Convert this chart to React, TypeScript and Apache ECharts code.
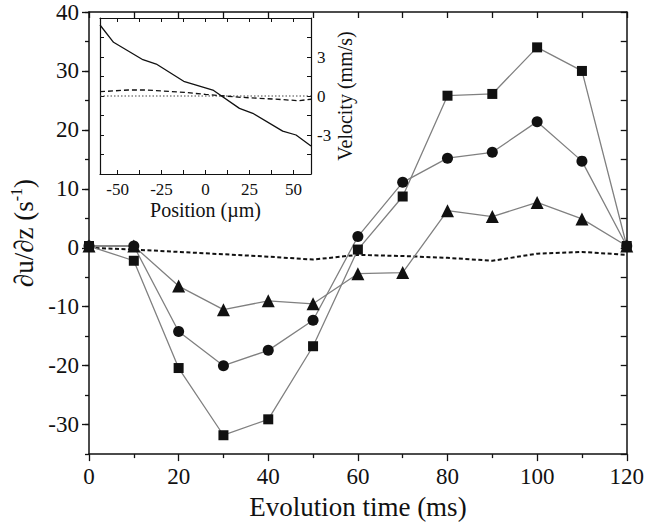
import React, { useEffect, useRef } from 'react';
import * as echarts from 'echarts';

// ---- main chart data ----
const times = [0, 10, 20, 30, 40, 50, 60, 70, 80, 90, 100, 110, 120];
const squareVals = [0.3, -2.2, -20.4, -31.8, -29.1, -16.7, -0.3, 8.7, 25.8, 26.1, 34.0, 30.0, 0.3];
const circleVals = [0.3, 0.3, -14.2, -20.0, -17.4, -12.3, 1.9, 11.1, 15.2, 16.2, 21.4, 14.7, 0.3];
const triangleVals = [0.3, 0.3, -6.5, -10.5, -9.0, -9.5, -4.4, -4.2, 6.3, 5.3, 7.7, 4.9, 0.3];
const dashedVals = [0, -0.3, -0.7, -1.1, -1.5, -2.0, -1.2, -1.4, -1.7, -2.2, -1.0, -0.7, -1.2];
const yMajorTicks = [-30, -20, -10, 0, 10, 20, 30, 40];

// ---- inset data ----
const insetSolidPos = [-60, -52.3, -35.6, -28, -12.4, 4.2, 19.3, 26.9, 43.9, 51.5, 60];
const insetSolidVals = [5.46, 4.13, 2.79, 2.46, 1.13, 0.46, -0.95, -1.33, -2.7, -3.0, -3.85];
const insetDashPos = [-60, -44, -33, -12, 0, 20, 38, 53, 60];
const insetDashVals = [0.33, 0.46, 0.46, 0.28, 0.12, -0.1, -0.23, -0.36, -0.25];
const insetDotPos = [-60, 60];
const insetDotVals = [0, 0];
const insetXLabels = [-50, -25, 0, 25, 50];
const insetXTicks = [-50, -37.5, -25, -12.5, 0, 12.5, 25, 37.5, 50];
const insetYLabels = [-3, 0, 3];

const FONT = 'Liberation Serif';
const INK = '#111';

const zip = (xs: number[], ys: number[]) => xs.map((x, i) => [x, ys[i]]);

export default function App() {
  const ref = useRef<HTMLDivElement>(null);

  useEffect(() => {
    if (!ref.current) return;
    const chart = echarts.init(ref.current, undefined, { renderer: 'svg' });

    const line = { show: true, onZero: false, lineStyle: { color: INK, width: 1.5 } };
    const insetLine = { show: true, onZero: false, lineStyle: { color: INK, width: 1.2 } };
    const tickStyle = { color: INK, width: 1.3 };
    const lbl = (size: number, extra: any = {}) => ({ fontSize: size, fontFamily: FONT, color: INK, ...extra });

    const option: any = {
      animation: false,
      backgroundColor: '#fff',
      textStyle: { fontFamily: FONT },
      grid: [
        { left: 89, right: 7, top: 12, bottom: 65, show: false },
        { left: 100, top: 18, width: 211, height: 156, show: true, backgroundColor: '#fff', borderWidth: 0, z: 5 },
      ],
      xAxis: [
        {
          gridIndex: 0, type: 'value', min: 0, max: 120, interval: 20, position: 'bottom',
          axisLine: line,
          axisTick: { show: true, inside: false, length: 7, lineStyle: tickStyle },
          minorTick: { show: true, splitNumber: 2, length: 4, lineStyle: tickStyle },
          axisLabel: lbl(23, { margin: 11 }),
          splitLine: { show: false },
          name: 'Evolution time (ms)', nameLocation: 'middle', nameGap: 38,
          nameTextStyle: lbl(27),
        },
        {
          gridIndex: 0, type: 'value', min: 0, max: 120, interval: 10, position: 'top',
          axisLine: line,
          axisTick: { show: true, inside: true, length: 6, lineStyle: tickStyle },
          axisLabel: { show: false }, splitLine: { show: false },
        },
        {
          gridIndex: 1, type: 'value', min: -60, max: 60, position: 'bottom', z: 6,
          axisLine: insetLine,
          axisTick: { show: true, inside: true, length: 4, customValues: insetXTicks, lineStyle: { color: INK, width: 1 } },
          axisLabel: lbl(17, { customValues: insetXLabels, margin: 7 }),
          splitLine: { show: false },
          name: 'Position (µm)', nameLocation: 'middle', nameGap: 26,
          nameTextStyle: lbl(20),
        },
        {
          gridIndex: 1, type: 'value', min: -60, max: 60, position: 'top', z: 6,
          axisLine: insetLine,
          axisTick: { show: true, inside: true, length: 4, customValues: insetXTicks, lineStyle: { color: INK, width: 1 } },
          axisLabel: { show: false }, splitLine: { show: false },
        },
      ],
      yAxis: [
        {
          gridIndex: 0, type: 'value', min: -35, max: 40, position: 'left',
          axisLine: line,
          axisTick: { show: true, inside: false, length: 7, customValues: yMajorTicks, lineStyle: tickStyle },
          axisLabel: lbl(23, { customValues: yMajorTicks, margin: 10 }),
          splitLine: { show: false },
          name: '{a|∂u/∂z (s}{sup|-1}{a|)}', nameLocation: 'middle', nameGap: 46, nameRotate: 90,
          nameTextStyle: lbl(27, {
            rich: {
              a: lbl(27, { lineHeight: 30 }),
              sup: lbl(16, { verticalAlign: 'top', lineHeight: 30, padding: [0, 0, 10, 0] }),
            },
          }),
        },
        {
          gridIndex: 0, type: 'value', min: -35, max: 40, interval: 5, position: 'left',
          axisLine: { show: false, onZero: false },
          axisTick: { show: true, inside: false, length: 4, lineStyle: tickStyle },
          axisLabel: { show: false }, splitLine: { show: false },
        },
        {
          gridIndex: 0, type: 'value', min: -35, max: 40, interval: 5, position: 'right',
          axisLine: line,
          axisTick: { show: true, inside: true, length: 6, lineStyle: tickStyle },
          axisLabel: { show: false }, splitLine: { show: false },
        },
        {
          gridIndex: 1, type: 'value', min: -6, max: 6, interval: 1.5, position: 'left', z: 6,
          axisLine: insetLine,
          axisTick: { show: true, inside: true, length: 4, lineStyle: { color: INK, width: 1 } },
          axisLabel: { show: false }, splitLine: { show: false },
        },
        {
          gridIndex: 1, type: 'value', min: -6, max: 6, interval: 1.5, position: 'right', z: 6,
          axisLine: insetLine,
          axisTick: { show: true, inside: true, length: 4, lineStyle: { color: INK, width: 1 } },
          axisLabel: lbl(17, { customValues: insetYLabels, margin: 6 }),
          splitLine: { show: false },
          name: 'Velocity (mm/s)', nameLocation: 'middle', nameGap: 23, nameRotate: 90,
          nameTextStyle: lbl(20),
        },
      ],
      series: [
        {
          type: 'line', xAxisIndex: 0, yAxisIndex: 0, data: zip(times, dashedVals),
          symbol: 'none', lineStyle: { color: '#111', width: 2, type: [4, 2.5] }, z: 2,
        },
        {
          type: 'line', xAxisIndex: 0, yAxisIndex: 0, data: zip(times, triangleVals),
          symbol: 'triangle', symbolSize: 13, itemStyle: { color: '#111' },
          lineStyle: { color: '#808080', width: 1.3 }, z: 3,
        },
        {
          type: 'line', xAxisIndex: 0, yAxisIndex: 0, data: zip(times, circleVals),
          symbol: 'circle', symbolSize: 11, itemStyle: { color: '#111' },
          lineStyle: { color: '#808080', width: 1.3 }, z: 3,
        },
        {
          type: 'line', xAxisIndex: 0, yAxisIndex: 0, data: zip(times, squareVals),
          symbol: 'rect', symbolSize: 10, itemStyle: { color: '#111' },
          lineStyle: { color: '#808080', width: 1.3 }, z: 3,
        },
        {
          type: 'line', xAxisIndex: 2, yAxisIndex: 3, data: zip(insetDotPos, insetDotVals),
          symbol: 'none', lineStyle: { color: '#444', width: 1.2, type: [1.5, 2] }, z: 7,
        },
        {
          type: 'line', xAxisIndex: 2, yAxisIndex: 3, data: zip(insetDashPos, insetDashVals),
          symbol: 'none', lineStyle: { color: '#111', width: 1.3, type: [5, 3] }, z: 7,
        },
        {
          type: 'line', xAxisIndex: 2, yAxisIndex: 3, data: zip(insetSolidPos, insetSolidVals),
          symbol: 'none', lineStyle: { color: '#111', width: 1.3 }, z: 7,
        },
      ],
    };

    chart.setOption(option);
    return () => chart.dispose();
  }, []);

  return <div ref={ref} style={{ position: 'absolute', left: 0, top: 0, width: 647, height: 525 }} />;
}
